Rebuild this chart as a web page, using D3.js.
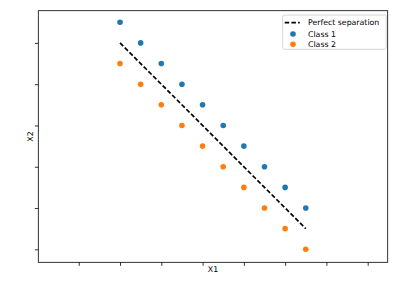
<!DOCTYPE html>
<meta charset="utf-8">
<style>
    body { margin: 0; background: #fff; }
    svg { display: block; font-family: "DejaVu Sans", sans-serif; }
    .axis path, .axis line { fill: none; stroke: #000; stroke-width: 0.8; }
    .axis text { display: none; }
    .label { font-size: 7.8px; fill: #000; }
    .legend text { font-size: 7.8px; fill: #000; }
</style>
<svg id="chart" width="399" height="285"></svg>
<script src="https://cdn.jsdelivr.net/npm/d3@7"></script>
<script>

    // data
    var xs = [0, 1, 2, 3, 4, 5, 6, 7, 8, 9];
    var class1 = [9, 8, 7, 6, 5, 4, 3, 2, 1, 0];
    var class2 = [7, 6, 5, 4, 3, 2, 1, 0, -1, -2];
    var sepX = [0, 9];
    var sepY = [8, -1];
    var xTicks = [-2, 0, 2, 4, 6, 8, 10, 12];
    var yTicks = [-2, 0, 2, 4, 6, 8];

    var margin = {top: 10.7, right: 11.3, bottom: 22.7, left: 38.3};

    var svg = d3.select("#chart"),
        width = +svg.attr("width") - margin.left - margin.right,
        height = +svg.attr("height") - margin.top - margin.bottom;

    var x = d3.scaleLinear().domain([-3.96, 12.97]).range([0, width]);
    var y = d3.scaleLinear().domain([-2.63, 9.56]).range([height, 0]);

    var g = svg.append("g")
        .attr("transform", "translate(" + margin.left + "," + margin.top + ")");

    // frame
    g.append("rect")
        .attr("width", width).attr("height", height)
        .attr("fill", "none").attr("stroke", "#000").attr("stroke-width", 0.8);

    g.append("g")
        .attr("class", "axis")
        .attr("transform", "translate(0," + height + ")")
        .call(d3.axisBottom(x).tickValues(xTicks).tickSize(3.5).tickSizeOuter(0));

    g.append("g")
        .attr("class", "axis")
        .call(d3.axisLeft(y).tickValues(yTicks).tickSize(3.5).tickSizeOuter(0));

    g.selectAll(".axis .domain").remove();

    // separation line
    var line = d3.line()
        .x(function(d) { return x(d[0]); })
        .y(function(d) { return y(d[1]); });

    g.append("path")
        .datum(d3.zip(sepX, sepY))
        .attr("d", line)
        .attr("fill", "none")
        .attr("stroke", "#000")
        .attr("stroke-width", 1.7)
        .attr("stroke-dasharray", "4.5,2.2");

    var series = [
        {name: "Class 1", vals: class1, color: "#1f77b4"},
        {name: "Class 2", vals: class2, color: "#ff7f0e"}
    ];

    series.forEach(function(s) {
        g.append("g").selectAll("circle")
            .data(d3.zip(xs, s.vals))
            .enter().append("circle")
            .attr("cx", function(d) { return x(d[0]); })
            .attr("cy", function(d) { return y(d[1]); })
            .attr("r", 2.8)
            .attr("fill", s.color);
    });

    // axis labels
    svg.append("text")
        .attr("class", "label")
        .attr("x", margin.left + width / 2)
        .attr("y", 272)
        .attr("text-anchor", "middle")
        .text("X1");

    svg.append("text")
        .attr("class", "label")
        .attr("transform", "translate(33," + (margin.top + height / 2) + ") rotate(-90)")
        .attr("text-anchor", "middle")
        .text("X2");

    // legend
    var lg = svg.append("g").attr("class", "legend")
        .attr("transform", "translate(282.7,15)");

    lg.append("rect")
        .attr("width", 103.5).attr("height", 34.3)
        .attr("rx", 2)
        .attr("fill", "#fff").attr("fill-opacity", 0.8)
        .attr("stroke", "#ccc").attr("stroke-width", 0.8);

    lg.append("line")
        .attr("x1", 2).attr("x2", 17)
        .attr("y1", 7.7).attr("y2", 7.7)
        .attr("stroke", "#000").attr("stroke-width", 1.7)
        .attr("stroke-dasharray", "4.5,2.2");

    lg.append("text").attr("x", 25.3).attr("y", 7.7).attr("dy", "0.35em")
        .text("Perfect separation");

    series.forEach(function(s, i) {
        var yy = 19 + i * 10.3;
        lg.append("circle").attr("cx", 10.3).attr("cy", yy).attr("r", 2.8).attr("fill", s.color);
        lg.append("text").attr("x", 25.3).attr("y", yy).attr("dy", "0.35em").text(s.name);
    });

</script>
